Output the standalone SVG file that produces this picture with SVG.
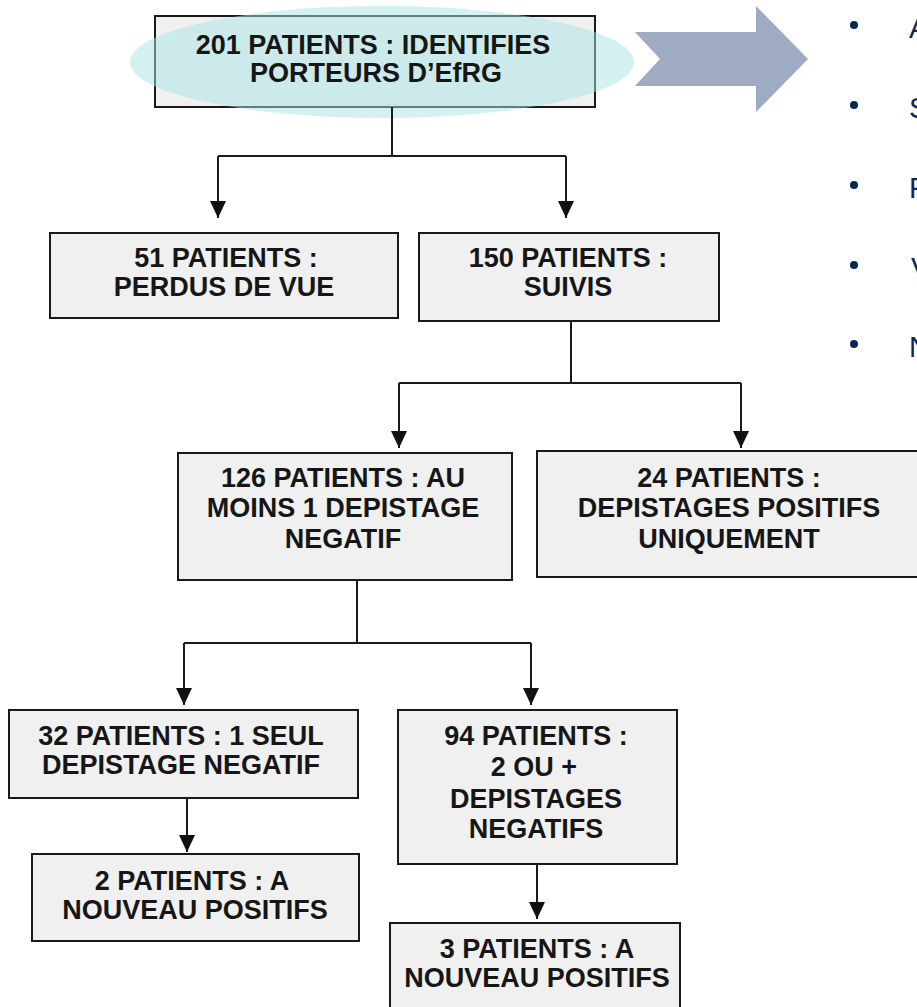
<svg xmlns="http://www.w3.org/2000/svg" width="917" height="1007" viewBox="0 0 917 1007">
<defs>
<style>
.box{fill:#f0f0f0;stroke:#1a1a1a;stroke-width:2}
.t{font-family:"Liberation Sans",Arial,sans-serif;font-weight:bold;font-size:27px;fill:#161616;text-anchor:middle}
.c{fill:none;stroke:#1a1a1a;stroke-width:2}
.b{fill:#0f2557}
.bt{font-family:"Liberation Sans",Arial,sans-serif;font-size:29px;fill:#0f2557}
</style>
<marker id="ah" markerWidth="17" markerHeight="16" refX="17" refY="8" orient="auto" markerUnits="userSpaceOnUse" viewBox="0 0 17 16">
<path d="M0,0 L17,8 L0,16 Z" fill="#111"/>
</marker>
</defs>
<rect width="917" height="1007" fill="#fff"/>

<g id="n-top">
<rect class="box" x="155" y="16" width="440" height="91"/>
<ellipse cx="382" cy="62" rx="252" ry="56" fill="#a9e3e5" fill-opacity="0.5"/>
<text class="t" x="373" y="54">201 PATIENTS : IDENTIFIES</text>
<text class="t" x="376" y="82">PORTEURS D’EfRG</text>
</g>

<g id="big-arrow">
<polygon points="635,32 756,32 756,6 808,59 756,112 756,86 635,86 660,59" fill="#9faac3"/>
</g>

<g id="bullets">
<circle class="b" cx="854" cy="25" r="4"/>
<text class="bt" x="909" y="38">A</text>
<circle class="b" cx="854" cy="105" r="4"/>
<text class="bt" x="909" y="118">S</text>
<circle class="b" cx="854" cy="185" r="4"/>
<text class="bt" x="909" y="198">F</text>
<circle class="b" cx="854" cy="265" r="4"/>
<text class="bt" x="911" y="278">V</text>
<circle class="b" cx="854" cy="344" r="4"/>
<text class="bt" x="909" y="357">N</text>
</g>

<g id="connectors">
<path class="c" d="M392,107 V156 M218,156 H566"/>
<path class="c" d="M218,156 V218" marker-end="url(#ah)"/>
<path class="c" d="M566,156 V218" marker-end="url(#ah)"/>
<path class="c" d="M571,321 V383 M399,383 H741"/>
<path class="c" d="M399,383 V448" marker-end="url(#ah)"/>
<path class="c" d="M741,383 V448" marker-end="url(#ah)"/>
<path class="c" d="M357,580 V643 M184,643 H531"/>
<path class="c" d="M184,643 V705" marker-end="url(#ah)"/>
<path class="c" d="M531,643 V705" marker-end="url(#ah)"/>
<path class="c" d="M187,798 V852" marker-end="url(#ah)"/>
<path class="c" d="M537,864 V919" marker-end="url(#ah)"/>
</g>

<g id="n-51">
<rect class="box" x="50" y="233" width="348" height="85"/>
<text class="t" x="226" y="267">51 PATIENTS :</text>
<text class="t" x="224" y="296">PERDUS DE VUE</text>
</g>

<g id="n-150">
<rect class="box" x="419" y="233" width="300" height="88"/>
<text class="t" x="568" y="267">150 PATIENTS :</text>
<text class="t" x="568" y="296">SUIVIS</text>
</g>

<g id="n-126">
<rect class="box" x="178" y="453" width="334" height="127"/>
<text class="t" x="343" y="487">126 PATIENTS : AU</text>
<text class="t" x="343" y="517">MOINS 1 DEPISTAGE</text>
<text class="t" x="343" y="548">NEGATIF</text>
</g>

<g id="n-24">
<rect class="box" x="537" y="451" width="390" height="126"/>
<text class="t" x="729" y="487">24 PATIENTS :</text>
<text class="t" x="729" y="517">DEPISTAGES POSITIFS</text>
<text class="t" x="729" y="548">UNIQUEMENT</text>
</g>

<g id="n-32">
<rect class="box" x="9" y="710" width="349" height="88"/>
<text class="t" x="181" y="745">32 PATIENTS : 1 SEUL</text>
<text class="t" x="181" y="774">DEPISTAGE NEGATIF</text>
</g>

<g id="n-94">
<rect class="box" x="398" y="710" width="279" height="154"/>
<text class="t" x="536" y="745">94 PATIENTS :</text>
<text class="t" x="534" y="776">2 OU +</text>
<text class="t" x="536" y="808">DEPISTAGES</text>
<text class="t" x="536" y="838">NEGATIFS</text>
</g>

<g id="n-2">
<rect class="box" x="32" y="854" width="327" height="87"/>
<text class="t" x="192" y="890">2 PATIENTS : A</text>
<text class="t" x="195" y="919">NOUVEAU POSITIFS</text>
</g>

<g id="n-3">
<rect class="box" x="390" y="923" width="290" height="90"/>
<text class="t" x="537" y="958">3 PATIENTS : A</text>
<text class="t" x="537" y="987">NOUVEAU POSITIFS</text>
</g>
</svg>
